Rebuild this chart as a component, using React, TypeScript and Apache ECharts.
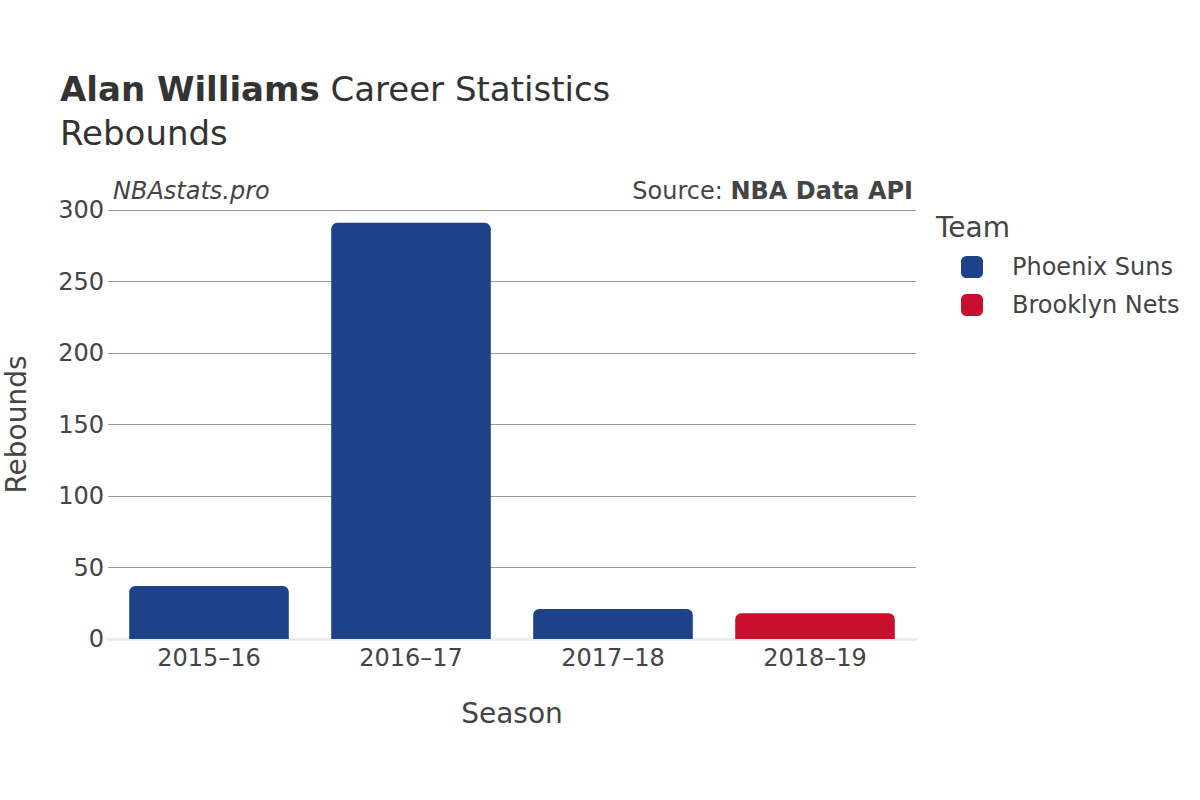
import React, { useEffect, useRef } from "react";
import * as echarts from "echarts";

const seasons = ["2015–16", "2016–17", "2017–18", "2018–19"];
const suns = [37, 291, 21, null];
const nets = [null, null, null, 18];
const teams = ["Phoenix Suns", "Brooklyn Nets"];

const FONT = "DejaVu Sans";

export default function App() {
  const ref = useRef<HTMLDivElement>(null);
  useEffect(() => {
    const chart = echarts.init(ref.current!, null, { renderer: "svg" });
    chart.setOption({
      animation: false,
      textStyle: { fontFamily: FONT },
      title: {
        text: "{b|Alan Williams} Career Statistics\nRebounds",
        left: 60,
        top: 67,
        padding: 0,
        textStyle: {
          fontFamily: FONT,
          fontSize: 34,
          fontWeight: "normal",
          color: "#333",
          lineHeight: 44,
          rich: {
            b: { fontFamily: FONT, fontSize: 34, fontWeight: "bold", color: "#333", lineHeight: 44 },
          },
        },
      },
      grid: {
        left: 108,
        right: 284,
        top: 210,
        bottom: 161,
        containLabel: false,
        outerBoundsMode: "none",
      },
      legend: {
        orient: "vertical",
        left: 961,
        top: 255,
        padding: 0,
        itemWidth: 22,
        itemHeight: 22,
        itemGap: 14,
        icon: "roundRect",
        textStyle: { fontFamily: FONT, fontSize: 24, color: "#444", padding: [0, 0, 0, 24] },
        data: teams,
      },
      graphic: [
        {
          type: "text",
          left: 936,
          top: 213,
          style: { text: "Team", font: `28px "${FONT}"`, fill: "#444" },
        },
        {
          type: "text",
          left: 113,
          top: 179,
          style: { text: "NBAstats.pro", font: `italic 24px "${FONT}"`, fill: "#444" },
        },
        {
          type: "text",
          right: 287,
          top: 179,
          style: {
            text: "{n|Source: }{b|NBA Data API}",
            rich: {
              n: { fontFamily: FONT, fontSize: 24, fill: "#444" },
              b: { fontFamily: FONT, fontSize: 24, fontWeight: "bold", fill: "#444" },
            },
          },
        },
      ],
      xAxis: {
        type: "category",
        data: seasons,
        name: "Season",
        nameLocation: "middle",
        nameGap: 60,
        nameTextStyle: { fontFamily: FONT, fontSize: 28, color: "#444" },
        axisLine: { show: true, lineStyle: { color: "#ebebeb", width: 3 } },
        axisTick: { show: false },
        axisLabel: { fontFamily: FONT, fontSize: 24, color: "#444", margin: 7 },
      },
      yAxis: {
        type: "value",
        min: 0,
        max: 300,
        interval: 50,
        name: "Rebounds",
        nameLocation: "middle",
        nameGap: 78,
        nameTextStyle: { fontFamily: FONT, fontSize: 28, color: "#444" },
        axisLine: { show: false },
        axisTick: { show: false },
        axisLabel: { fontFamily: FONT, fontSize: 24, color: "#444", margin: 4 },
        splitLine: { lineStyle: { color: "#999", width: 1 } },
      },
      series: [
        {
          name: teams[0],
          type: "bar",
          stack: "t",
          data: suns,
          barCategoryGap: "21%",
          itemStyle: { color: "#1d428a", borderRadius: [6, 6, 0, 0] },
        },
        {
          name: teams[1],
          type: "bar",
          stack: "t",
          data: nets,
          barCategoryGap: "21%",
          itemStyle: { color: "#c8102e", borderRadius: [6, 6, 0, 0] },
        },
      ],
    });
    return () => chart.dispose();
  }, []);
  return (
    <div
      ref={ref}
      style={{ position: "absolute", left: 0, top: 0, width: 1200, height: 800 }}
    />
  );
}
